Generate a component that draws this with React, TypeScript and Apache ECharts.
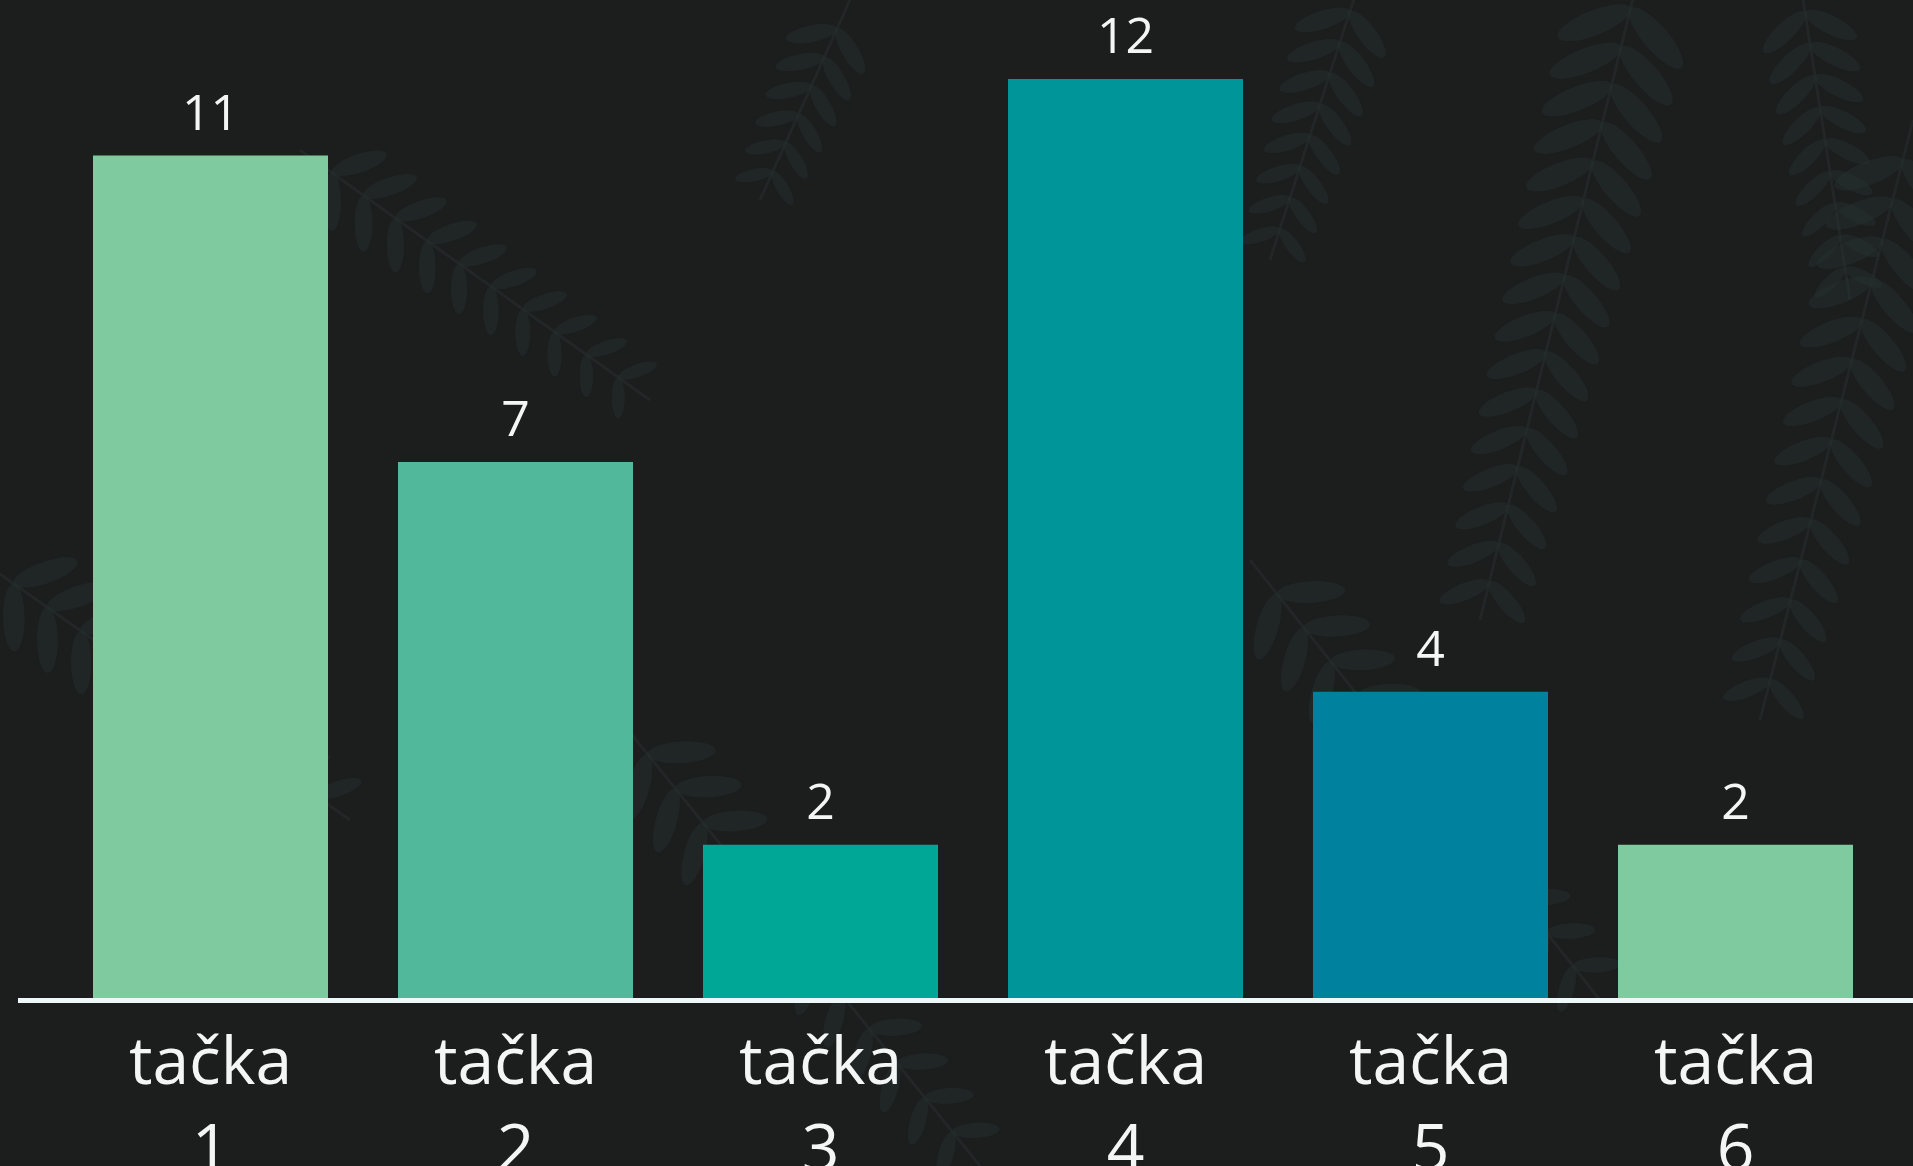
import React, { useEffect, useRef } from "react";
import * as echarts from "echarts";

const categories = ["tačka\n1", "tačka\n2", "tačka\n3", "tačka\n4", "tačka\n5", "tačka\n6"];
const values = [11, 7, 2, 12, 4, 2];
const barColors = ["#80CA9F", "#52B89B", "#00A796", "#009699", "#00829E", "#80CA9F"];

const W = 1913;
const H = 1166;
const BASE_Y = 999;

// decorative background fern fronds: [x0, y0, x1, y1, leaflets, leafLength]
const fronds: number[][] = [
  [1640, -30, 1480, 620, 16, 80],
  [1913, 120, 1760, 720, 14, 75],
  [1360, -20, 1270, 260, 8, 60],
  [1800, -20, 1850, 300, 9, 60],
  [-20, 560, 350, 820, 10, 70],
  [620, 720, 980, 1166, 12, 70],
  [1250, 560, 1600, 1000, 12, 70],
  [300, 150, 650, 400, 10, 60],
  [850, 0, 760, 200, 6, 55],
];

function buildFern(f: number[]) {
  const [x0, y0, x1, y1, n, len] = f;
  const dx = x1 - x0;
  const dy = y1 - y0;
  const th = Math.atan2(dy, dx);
  const els: any[] = [
    {
      type: "line",
      shape: { x1: x0, y1: y0, x2: x1, y2: y1 },
      style: { stroke: "#2a3433", lineWidth: 3, opacity: 0.45 },
      silent: true,
    },
  ];
  for (let i = 1; i <= n; i++) {
    const t = i / (n + 1);
    const px = x0 + dx * t;
    const py = y0 + dy * t;
    const l = len * (1 - 0.35 * t);
    for (const s of [-1, 1]) {
      const phi = th + s * 0.95;
      els.push({
        type: "ellipse",
        x: px + Math.cos(phi) * l * 0.5,
        y: py + Math.sin(phi) * l * 0.5,
        rotation: -phi,
        shape: { cx: 0, cy: 0, rx: l * 0.5, ry: l * 0.16 },
        style: { fill: "#263131", opacity: 0.45 },
        silent: true,
      });
    }
  }
  return { type: "group", children: els, silent: true, z: 0 };
}

export default function App() {
  const ref = useRef<HTMLDivElement>(null);
  useEffect(() => {
    document.body.style.margin = "0";
    const chart = echarts.init(ref.current!, null, { renderer: "svg" });
    chart.setOption({
      animation: false,
      backgroundColor: "#1c1d1d",
      grid: {
        left: 58,
        right: 25,
        top: 79,
        bottom: H - BASE_Y + 1,
        containLabel: false,
        outerBoundsMode: "none",
      },
      xAxis: {
        type: "category",
        data: categories,
        axisLine: { show: false },
        axisTick: { show: false },
        axisLabel: {
          color: "#f4f6f6",
          fontFamily: "Open Sans",
          fontSize: 66,
          lineHeight: 87,
          margin: 16,
          interval: 0,
        },
      },
      yAxis: {
        type: "value",
        min: 0,
        max: 12,
        show: false,
        splitLine: { show: false },
      },
      series: [
        {
          type: "bar",
          data: values.map((v, i) => ({ value: v, itemStyle: { color: barColors[i] } })),
          barWidth: 235,
          z: 2,
          label: {
            show: true,
            position: "top",
            distance: 20,
            color: "#f4f6f6",
            fontFamily: "Open Sans",
            fontSize: 50,
            lineHeight: 50,
          },
        },
      ],
      graphic: [
        ...fronds.map(buildFern),
        {
          type: "line",
          z: 10,
          shape: { x1: 18, y1: BASE_Y + 1.5, x2: W, y2: BASE_Y + 1.5 },
          style: { stroke: "#eef8f8", lineWidth: 5 },
        },
      ],
    });
    return () => chart.dispose();
  }, []);
  return (
    <div
      ref={ref}
      style={{ position: "fixed", left: 0, top: 0, width: W, height: H }}
    />
  );
}
